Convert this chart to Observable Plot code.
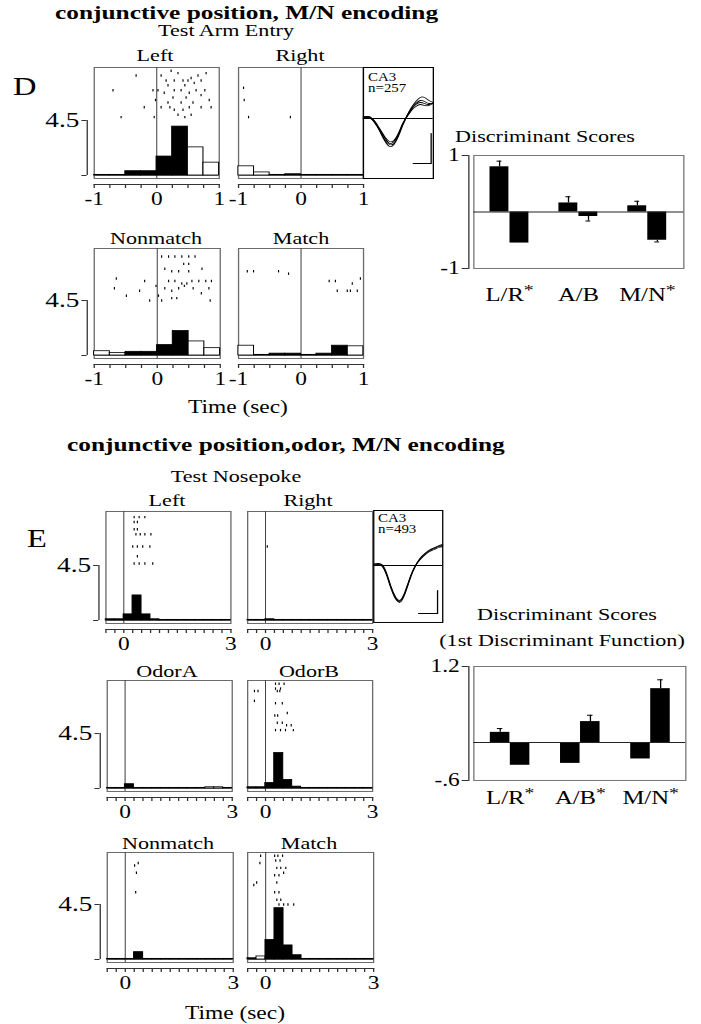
<!DOCTYPE html>
<html><head><meta charset="utf-8">
<script src="https://cdn.jsdelivr.net/npm/d3@7"></script>
<script src="https://cdn.jsdelivr.net/npm/@observablehq/plot@0.6"></script>
<style>
html,body{margin:0;padding:0;background:#fff;}
#fig{position:relative;width:539px;height:1024px;transform:scaleX(1.3);transform-origin:0 0;font-family:"Liberation Serif","Times New Roman",Times,serif;color:#000;}
#fig .lab{position:absolute;white-space:nowrap;line-height:1;}
</style></head><body><div id="fig"></div>
<script>
// ================= DATA =================
const BIN_WIDTH = 0.25;
const RATE_SCALE = 4.5, RATE_SCALE_LABEL = "4.5";
const D_BIN_STARTS = [-1, -0.75, -0.5, -0.25, 0, 0.25, 0.5, 0.75];
const E_BIN_STARTS = [-0.5, -0.25, 0, 0.25, 0.5, 0.75, 1, 1.25, 1.5, 1.75, 2, 2.25, 2.5, 2.75];
const D_TICKS = [-1, -0.75, -0.5, -0.25, 0, 0.25, 0.5, 0.75, 1];
const D_TICK_LABELS = ["-1", "", "", "", "0", "", "", "", "1"];
const E_TICKS = [-0.5, -0.25, 0, 0.25, 0.5, 0.75, 1, 1.25, 1.5, 1.75, 2, 2.25, 2.5, 2.75, 3];
const E_TICK_LABELS = ["", "", "0", "", "", "", "", "", "", "", "", "", "", "", "3"];

// Panel D histograms (spikes/s), filled = black bar
const D_LEFT_RATE = [0.05, 0.05, 0.35, 0.35, 1.55, 4.0, 2.3, 1.05];
const D_LEFT_FILLED = [0, 0, 1, 1, 1, 1, 0, 0];
const D_RIGHT_RATE = [0.75, 0.25, 0.05, 0.1, 0.05, 0.05, 0.05, 0.05];
const D_RIGHT_FILLED = [0, 0, 1, 1, 1, 1, 1, 0];
const D_NONMATCH_RATE = [0.35, 0.2, 0.3, 0.3, 0.85, 2.0, 1.15, 0.6];
const D_NONMATCH_FILLED = [0, 0, 1, 1, 1, 1, 0, 0];
const D_MATCH_RATE = [0.8, 0.05, 0.15, 0.15, 0.05, 0.15, 0.8, 0.75];
const D_MATCH_FILLED = [0, 0, 1, 1, 1, 1, 1, 0];

// Panel E histograms
const E_LEFT_RATE = [0.1, 0.1, 0.5, 2.05, 0.5, 0.1, 0.05, 0.05, 0.05, 0.05, 0.05, 0.05, 0.05, 0.05];
const E_RIGHT_RATE = [0.05, 0.05, 0.1, 0.05, 0.05, 0.05, 0.05, 0.05, 0.05, 0.05, 0.05, 0.05, 0.05, 0.05];
const E_ODORA_RATE = [0.05, 0.05, 0.35, 0.05, 0.05, 0.05, 0.05, 0.05, 0.05, 0.05, 0.05, 0.1, 0.1, 0.05];
const E_ODORB_RATE = [0.1, 0.1, 0.45, 2.9, 0.7, 0.15, 0.05, 0.05, 0.05, 0.05, 0.05, 0.05, 0.05, 0.05];
const E_NONMATCH_RATE = [0.05, 0.05, 0.05, 0.6, 0.05, 0.05, 0.05, 0.05, 0.05, 0.05, 0.05, 0.05, 0.05, 0.05];
const E_MATCH_RATE = [0.1, 0.25, 1.6, 4.2, 1.15, 0.35, 0.05, 0.05, 0.05, 0.05, 0.05, 0.05, 0.05, 0.05];
const E_FILLED = [1, 1, 1, 1, 1, 1, 0, 0, 0, 0, 0, 0, 0, 0];
const E_MATCH_FILLED = [1, 0, 1, 1, 1, 1, 0, 0, 0, 0, 0, 0, 0, 0];

// Rasters: [time (s), trial]
const D_LEFT_RASTER = [[-0.33,3],[-0.70,9],[-0.57,20],[-0.20,16],[-0.06,9],[-0.02,13],[0.07,3],[0.18,7],[0.23,1],[0.28,5],[0.34,2],[0.42,5],[0.45,7],[0.50,5],[0.55,4],[0.60,6],[0.66,3],[0.71,5],[0.28,9],[0.39,9],[0.52,10],[0.63,9],[0.71,11],[0.84,13],[0.18,14],[0.26,12],[0.39,14],[0.47,12],[0.58,14],[0.21,16],[0.28,17],[0.42,17],[0.52,16],[0.34,19],[0.45,20],[0.55,19],[0.71,16],[0.87,16],[0.02,9],[0.12,10],[0.15,5],[-0.04,20],[0.77,9],[0.07,16],[0.79,2]];
const D_RIGHT_RASTER = [[-0.92,8],[-0.91,13],[-0.84,20],[-0.17,20]];
const D_NONMATCH_RASTER = [[-0.65,12],[-0.68,16],[-0.49,19],[-0.28,17],[-0.20,13],[-0.12,21],[-0.02,15],[0.02,19],[0.07,3],[0.18,3],[0.28,3],[0.39,3],[0.50,3],[0.60,3],[0.42,6],[0.50,6],[0.12,8],[0.23,9],[0.34,9],[0.50,9],[0.71,8],[0.18,13],[0.28,13],[0.39,14],[0.47,14],[0.55,13],[0.66,13],[0.77,13],[0.86,13],[0.12,16],[0.23,17],[0.34,16],[0.43,15],[0.57,16],[0.70,18],[0.82,16],[0.23,20],[0.31,20],[0.84,21],[0.07,21]];
const D_MATCH_RASTER = [[-0.86,9],[-0.76,9],[-0.36,9],[-0.20,10],[0.45,13],[0.55,13],[0.82,14],[0.95,12],[0.58,17],[0.74,17],[0.79,17],[0.90,17]];
const E_LEFT_RASTER = [[0.29,2],[0.43,2],[0.59,2],[0.29,4],[0.38,4],[0.29,7],[0.38,7],[0.34,9],[0.46,9],[0.59,9],[0.76,9],[0.25,14],[0.38,14],[0.53,14],[0.73,14],[0.38,18],[0.29,21],[0.43,21],[0.59,21],[0.81,21]];
const E_RIGHT_RASTER = [[0.05,14]];
const E_ODORA_RASTER = [];
const E_ODORB_RASTER = [[-0.31,4],[-0.21,4],[-0.31,8],[0.28,1],[0.38,1],[0.52,1],[0.28,3],[0.42,3],[0.33,4],[0.40,4],[0.28,9],[0.47,9],[0.26,14],[0.34,14],[0.61,13],[0.33,17],[0.47,17],[0.59,18],[0.72,18],[0.28,20],[0.42,20],[0.56,20],[0.78,20]];
const E_NONMATCH_RASTER = [[0.36,4],[0.26,5],[0.31,8],[0.29,16]];
const E_MATCH_RASTER = [[-0.14,1],[-0.16,4],[-0.25,12],[-0.33,13],[0.25,1],[0.34,1],[0.47,1],[0.28,3],[0.40,3],[0.31,6],[0.42,6],[0.56,6],[0.25,9],[0.37,9],[0.5,8],[0.31,12],[0.25,16],[0.37,16],[0.31,19],[0.42,19],[0.37,21],[0.5,21],[0.62,21],[0.78,21]];

// Average waveforms (one array per recording channel)
const CA3_D_TRACES = [
  [0.05, 0.1, 0.0, -0.3, -0.75, -1.15, -1.4, -1.3, -0.9, -0.35, 0.15, 0.55, 0.85, 1.05, 1.05, 0.9, 0.8],
  [0.05, 0.05, -0.05, -0.35, -0.7, -1.1, -1.3, -1.25, -0.85, -0.3, 0.15, 0.5, 0.75, 0.9, 0.85, 0.75, 0.75],
  [0.1, 0.1, 0.0, -0.25, -0.65, -1.0, -1.25, -1.15, -0.8, -0.3, 0.1, 0.45, 0.7, 0.8, 0.75, 0.7, 0.8],
  [0.0, 0.05, -0.05, -0.3, -0.6, -0.95, -1.15, -1.1, -0.75, -0.25, 0.1, 0.4, 0.6, 0.7, 0.65, 0.65, 0.75]
];
const CA3_E_TRACES = [
  [0.05, 0.08, 0.0, -0.45, -1.1, -1.6, -1.85, -1.55, -0.95, -0.35, 0.1, 0.4, 0.6, 0.75, 0.85, 0.95, 1.0],
  [0.0, 0.05, -0.05, -0.5, -1.15, -1.65, -1.8, -1.5, -0.9, -0.3, 0.1, 0.35, 0.55, 0.7, 0.8, 0.9, 0.95],
  [0.08, 0.1, 0.02, -0.4, -1.05, -1.55, -1.75, -1.45, -0.85, -0.3, 0.12, 0.42, 0.62, 0.78, 0.88, 0.98, 1.05]
];
const CA3_D_SCALEBAR = [[11.4, -2.25], [15.5, -2.25], [15.5, -0.75]];
const CA3_E_SCALEBAR = [[10.4, -2.4], [14.8, -2.4], [14.8, -1.25]];
const CA3_D_LABELS = ["CA3", "n=257"];
const CA3_E_LABELS = ["CA3", "n=493"];

// Discriminant scores
const DISC_D_CATS = ["L/R*", "A/B", "M/N*"];
const DISC_D_BAR1 = [0.80, 0.16, 0.11];
const DISC_D_ERR1 = [0.10, 0.11, 0.08];
const DISC_D_BAR2 = [-0.55, -0.08, -0.50];
const DISC_D_ERR2 = [0.0, 0.08, 0.03];
const DISC_D_YTICKS = [-1, 1], DISC_D_YLABELS = ["-1", "1"];
const DISC_E_CATS = ["L/R*", "A/B*", "M/N*"];
const DISC_E_BAR1 = [0.16, -0.33, -0.26];
const DISC_E_ERR1 = [0.06, 0.0, 0.0];
const DISC_E_BAR2 = [-0.36, 0.33, 0.85];
const DISC_E_ERR2 = [0.0, 0.10, 0.14];
const DISC_E_YTICKS = [-0.6, 1.2], DISC_E_YLABELS = ["-.6", "1.2"];

// ================= RENDERING =================
const S = 1.3;                 // horizontal stretch of the whole figure
const K = 55 / RATE_SCALE;     // px per spike/s
const ROW = 0.2;               // raster row height (rate units)
const FONT = '"Liberation Serif","Times New Roman",Times,serif';
const fig = document.getElementById("fig");
const STYLE = `overflow:visible;background:transparent;font-family:${FONT};max-width:none;position:absolute;`;

function place(svg, xRef, yRef, mL, mT) {
  svg.style.left = (xRef / S - mL) + "px";
  svg.style.top = (yRef - mT) + "px";
  fig.appendChild(svg);
}
function label(txt, x, baseline, size, opt = {}) {
  const d = document.createElement("div");
  d.className = "lab";
  d.textContent = txt;
  d.style.fontSize = size + "px";
  if (opt.bold) d.style.fontWeight = "bold";
  d.style.top = (baseline - 0.8375 * size) + "px";
  d.style.left = (x / S) + "px";
  if (opt.anchor !== "start") d.style.transform = "translateX(-50%)";
  fig.appendChild(d);
}

function hist(o) {
  const gap = 6, base = 3;
  const ymin = -(base + gap) / K;
  const ymax = ymin + (o.boxH + gap) / K;
  const mL = o.bracket ? 48 : 12, mR = 12, mT = 2, mB = 30;
  const bins = o.starts.map((s, i) => ({x1: s, x2: s + BIN_WIDTH, r: o.rate[i], f: o.filled[i]}));
  const lab = new Map(o.ticks.map((t, i) => [t, o.tickLabels[i]]));
  const marks = [
    Plot.frame({insetBottom: gap, stroke: "#6a6a6a", strokeWidth: 1}),
    Plot.frame({anchor: "bottom", stroke: "#333", strokeWidth: 1}),
    Plot.ruleY([0], {stroke: "#777", strokeWidth: 1}),
    Plot.ruleX([0], {y1: () => ymin + gap / K, y2: () => ymax, stroke: "#444", strokeWidth: 0.8}),
    Plot.rect(bins, {x1: "x1", x2: "x2", y1: () => 0, y2: "r", fill: d => d.f ? "#000" : "#fff", stroke: "#000", strokeWidth: 0.8}),
    Plot.ruleX(o.raster, {x: d => d[0], y1: d => ymax - d[1] * ROW, y2: d => ymax - d[1] * ROW - ROW, stroke: "#000", strokeWidth: 0.9}),
    Plot.axisX({ticks: o.ticks, tickSize: 4, tickPadding: 4, tickFormat: d => lab.get(d) ?? "", fontSize: 18, stroke: "#333", label: null})
  ];
  if (o.bracket) marks.push(
    Plot.ruleX([o.domain[0]], {y1: () => 0, y2: () => RATE_SCALE, dx: -7 / S, stroke: "#333"}),
    Plot.axisY({ticks: [0, RATE_SCALE], tickSize: 4, tickPadding: 2, dx: -7 / S, tickFormat: d => d === RATE_SCALE ? RATE_SCALE_LABEL : "", fontSize: 21, stroke: "#333", label: null})
  );
  const svg = Plot.plot({
    width: o.boxW / S + mL + mR, height: mT + o.boxH + gap + mB,
    marginLeft: mL, marginRight: mR, marginTop: mT, marginBottom: mB,
    x: {domain: o.domain, label: null}, y: {domain: [ymin, ymax], axis: o.bracket ? undefined : null, label: null},
    style: STYLE, marks
  });
  place(svg, o.x, o.y, mL, mT);
}

function wave(o) {
  const svg = Plot.plot({
    width: o.boxW / S, height: o.boxH, margin: 0,
    x: {domain: [0, 16], axis: null}, y: {domain: o.ydomain, axis: null},
    style: STYLE,
    marks: [
      Plot.frame({stroke: "#000", strokeWidth: 1}),
      Plot.ruleY([0], {stroke: "#000", strokeWidth: 0.8}),
      ...o.traces.map(tr => Plot.line(tr, {x: (d, i) => i, y: d => d, curve: "natural", stroke: "#000", strokeWidth: 0.8})),
      Plot.line(o.bar, {x: d => d[0], y: d => d[1], stroke: "#000", strokeWidth: 1})
    ]
  });
  place(svg, o.x, o.y, 0, 0);
  label(o.labels[0], o.x + 5, o.y + o.t1, 11.5, {anchor: "start"});
  label(o.labels[1], o.x + 5, o.y + o.t2, 11.5, {anchor: "start"});
}

function disc(o) {
  const mL = 40, mR = 10, mT = 8, mB = 40;
  const w = o.boxW / S, band = w / 3, half = band / 2, barW = 20 / S, capW = 6 / S;
  const r1 = o.cats.map((c, i) => ({c, v: o.bar1[i], e: o.err1[i]}));
  const r2 = o.cats.map((c, i) => ({c, v: o.bar2[i], e: o.err2[i]}));
  const end = d => d.v + Math.sign(d.v) * d.e;
  const e1 = r1.filter(d => d.e > 0), e2 = r2.filter(d => d.e > 0);
  const ylab = new Map(o.yTicks.map((t, i) => [t, o.yLabels[i]]));
  const svg = Plot.plot({
    width: w + mL + mR, height: o.boxH + mT + mB,
    marginLeft: mL, marginRight: mR, marginTop: mT, marginBottom: mB,
    x: {type: "band", domain: o.cats, padding: 0, label: null}, y: {domain: o.domain, label: null},
    style: STYLE,
    marks: [
      Plot.frame({stroke: "#777"}),
      Plot.frame({anchor: "left", dx: -5 / S, stroke: "#333"}),
      Plot.ruleX(e1, {x: "c", y1: "v", y2: end, dx: -barW / 2, stroke: "#000"}),
      Plot.ruleX(e2, {x: "c", y1: "v", y2: end, dx: barW / 2, stroke: "#000"}),
      Plot.tickY(e1, {x: "c", y: end, insetLeft: half - barW / 2 - capW / 2, insetRight: half + barW / 2 - capW / 2, stroke: "#000"}),
      Plot.tickY(e2, {x: "c", y: end, insetLeft: half + barW / 2 - capW / 2, insetRight: half - barW / 2 - capW / 2, stroke: "#000"}),
      Plot.barY(r1, {x: "c", y: "v", fill: "#000", insetLeft: half - barW, insetRight: half}),
      Plot.barY(r2, {x: "c", y: "v", fill: "#000", insetLeft: half, insetRight: half - barW}),
      Plot.ruleY([0], {stroke: "#222"}),
      Plot.axisX({tickSize: 0, tickPadding: o.labelPad, fontSize: 19, label: null}),
      Plot.axisY({ticks: o.yTicks, tickSize: 5, tickPadding: 2, dx: -5 / S, tickFormat: d => ylab.get(d), fontSize: 18, stroke: "#333", label: null})
    ]
  });
  svg.querySelectorAll("text").forEach(t => {
    const s = t.textContent;
    if (s.endsWith("*") && t.children.length === 0) {
      t.textContent = s.slice(0, -1);
      const ts = document.createElementNS("http://www.w3.org/2000/svg", "tspan");
      ts.setAttribute("dy", "-0.4em");
      ts.setAttribute("font-size", "0.8em");
      ts.textContent = "*";
      t.appendChild(ts);
    }
  });
  place(svg, o.x, o.y, mL, mT);
}

// ---------- Panel D ----------
label("conjunctive position, M/N encoding", 55, 19, 19.5, {anchor: "start", bold: true});
label("Test Arm Entry", 226, 36, 17);
label("D", 13, 95, 25, {anchor: "start"});
label("Left", 155, 61, 17);
label("Right", 300, 61, 17);
hist({x: 93, y: 67, boxW: 125, boxH: 111, domain: [-1, 1], starts: D_BIN_STARTS, rate: D_LEFT_RATE, filled: D_LEFT_FILLED, raster: D_LEFT_RASTER, ticks: D_TICKS, tickLabels: D_TICK_LABELS, bracket: true});
hist({x: 238, y: 67, boxW: 125, boxH: 111, domain: [-1, 1], starts: D_BIN_STARTS, rate: D_RIGHT_RATE, filled: D_RIGHT_FILLED, raster: D_RIGHT_RASTER, ticks: D_TICKS, tickLabels: D_TICK_LABELS});
wave({x: 363, y: 67, boxW: 70, boxH: 111, ydomain: [-3.0, 2.55], traces: CA3_D_TRACES, bar: CA3_D_SCALEBAR, labels: CA3_D_LABELS, t1: 15, t2: 26});
label("Nonmatch", 156, 244, 17);
label("Match", 301, 244, 17);
hist({x: 93, y: 248, boxW: 126, boxH: 110, domain: [-1, 1], starts: D_BIN_STARTS, rate: D_NONMATCH_RATE, filled: D_NONMATCH_FILLED, raster: D_NONMATCH_RASTER, ticks: D_TICKS, tickLabels: D_TICK_LABELS, bracket: true});
hist({x: 238, y: 248, boxW: 125, boxH: 110, domain: [-1, 1], starts: D_BIN_STARTS, rate: D_MATCH_RATE, filled: D_MATCH_FILLED, raster: D_MATCH_RASTER, ticks: D_TICKS, tickLabels: D_TICK_LABELS});
label("Time (sec)", 238, 413, 18);
label("Discriminant Scores", 545, 142, 17);
disc({x: 473, y: 155, boxW: 210, boxH: 113, domain: [-1, 1], cats: DISC_D_CATS, bar1: DISC_D_BAR1, err1: DISC_D_ERR1, bar2: DISC_D_BAR2, err2: DISC_D_ERR2, yTicks: DISC_D_YTICKS, yLabels: DISC_D_YLABELS, labelPad: 19});

// ---------- Panel E ----------
label("conjunctive position,odor, M/N encoding", 67, 451, 19.5, {anchor: "start", bold: true});
label("Test Nosepoke", 236, 482, 17);
label("E", 27, 547, 25, {anchor: "start"});
label("Left", 167, 506, 17);
label("Right", 308, 506, 17);
hist({x: 105, y: 511, boxW: 125, boxH: 112, domain: [-0.5, 3], starts: E_BIN_STARTS, rate: E_LEFT_RATE, filled: E_FILLED, raster: E_LEFT_RASTER, ticks: E_TICKS, tickLabels: E_TICK_LABELS, bracket: true});
hist({x: 247, y: 511, boxW: 125, boxH: 112, domain: [-0.5, 3], starts: E_BIN_STARTS, rate: E_RIGHT_RATE, filled: E_FILLED, raster: E_RIGHT_RASTER, ticks: E_TICKS, tickLabels: E_TICK_LABELS});
wave({x: 373, y: 510, boxW: 69, boxH: 112, ydomain: [-2.85, 2.75], traces: CA3_E_TRACES, bar: CA3_E_SCALEBAR, labels: CA3_E_LABELS, t1: 13, t2: 24});
label("OdorA", 167, 677, 17);
label("OdorB", 309, 677, 17);
hist({x: 106, y: 680, boxW: 125, boxH: 111, domain: [-0.5, 3], starts: E_BIN_STARTS, rate: E_ODORA_RATE, filled: E_FILLED, raster: E_ODORA_RASTER, ticks: E_TICKS, tickLabels: E_TICK_LABELS, bracket: true});
hist({x: 247, y: 680, boxW: 125, boxH: 111, domain: [-0.5, 3], starts: E_BIN_STARTS, rate: E_ODORB_RATE, filled: E_FILLED, raster: E_ODORB_RASTER, ticks: E_TICKS, tickLabels: E_TICK_LABELS});
label("Nonmatch", 168, 849, 17);
label("Match", 309, 849, 17);
hist({x: 106, y: 852, boxW: 126, boxH: 110, domain: [-0.5, 3], starts: E_BIN_STARTS, rate: E_NONMATCH_RATE, filled: E_FILLED, raster: E_NONMATCH_RASTER, ticks: E_TICKS, tickLabels: E_TICK_LABELS, bracket: true});
hist({x: 247, y: 852, boxW: 126, boxH: 110, domain: [-0.5, 3], starts: E_BIN_STARTS, rate: E_MATCH_RATE, filled: E_MATCH_FILLED, raster: E_MATCH_RASTER, ticks: E_TICKS, tickLabels: E_TICK_LABELS});
label("Time (sec)", 235, 1019, 18);
label("Discriminant Scores", 567, 620, 17);
label("(1st Discriminant Function)", 562, 646, 17);
disc({x: 473, y: 666, boxW: 212, boxH: 114, domain: [-0.6, 1.2], cats: DISC_E_CATS, bar1: DISC_E_BAR1, err1: DISC_E_ERR1, bar2: DISC_E_BAR2, err2: DISC_E_ERR2, yTicks: DISC_E_YTICKS, yLabels: DISC_E_YLABELS, labelPad: 10});
</script></body></html>
